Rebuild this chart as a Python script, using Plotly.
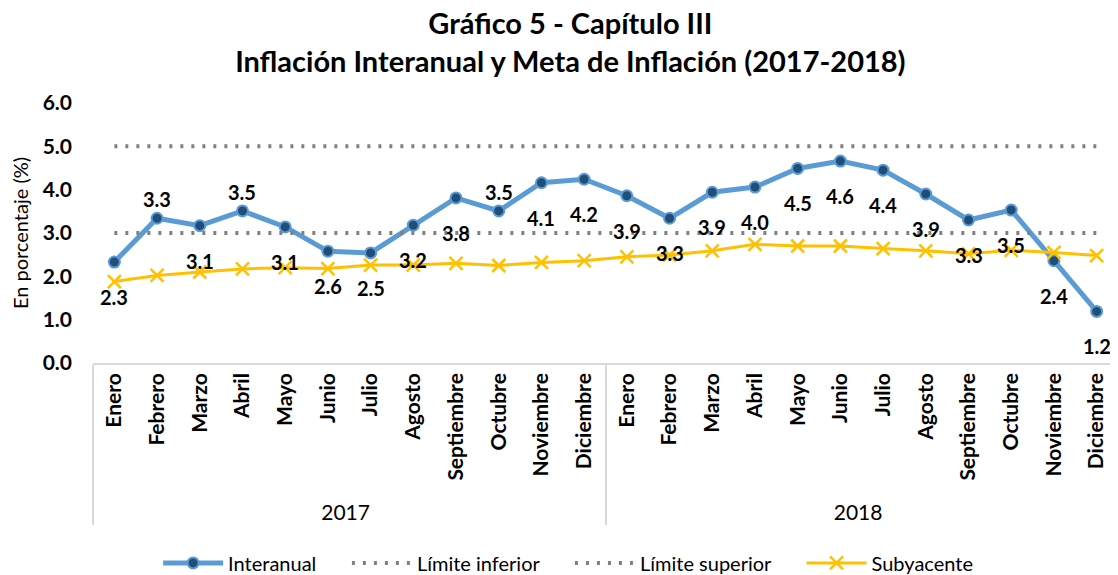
import plotly.graph_objects as go

years = ["2017"] * 12 + ["2018"] * 12
months = ["Enero", "Febrero", "Marzo", "Abril", "Mayo", "Junio", "Julio", "Agosto",
          "Septiembre", "Octubre", "Noviembre", "Diciembre"] * 2

interanual = [2.33, 3.34, 3.17, 3.51, 3.14, 2.58, 2.54, 3.18, 3.81, 3.51, 4.16, 4.24,
              3.86, 3.34, 3.94, 4.06, 4.49, 4.66, 4.45, 3.90, 3.30, 3.53, 2.36, 1.19]
interanual_labels = ["2.3", "3.3", "3.1", "3.5", "3.1", "2.6", "2.5", "3.2", "3.8", "3.5", "4.1", "4.2",
                     "3.9", "3.3", "3.9", "4.0", "4.5", "4.6", "4.4", "3.9", "3.3", "3.5", "2.4", "1.2"]
label_above = [False, True, False, True, False, False, False, False, False, True, False, False,
               False, False, False, False, False, False, False, False, False, False, False, False]
subyacente = [1.88, 2.02, 2.10, 2.17, 2.20, 2.18, 2.26, 2.26, 2.30, 2.25, 2.32, 2.36,
              2.45, 2.49, 2.59, 2.74, 2.70, 2.70, 2.64, 2.59, 2.52, 2.60, 2.55, 2.48]
limite_inferior = [3.0] * 24
limite_superior = [5.0] * 24

y_ticks = [0, 1, 2, 3, 4, 5, 6]
y_tick_labels = ["0.0", "1.0", "2.0", "3.0", "4.0", "5.0", "6.0"]

FONT = "Lato"
PAD = "\u00a0" * 5
x = [years, ["<b>%s</b>" % m for m in months]]

fig = go.Figure()
fig.add_trace(go.Scatter(
    x=x, y=interanual, name="Interanual" + PAD, mode="lines+markers",
    line=dict(color="#5B9BD5", width=5),
    marker=dict(symbol="circle", size=11, color="#1F4E79", line=dict(color="#5B9BD5", width=2)),
))
fig.add_trace(go.Scatter(
    x=x, y=limite_inferior, name="Límite inferior" + PAD, mode="lines",
    line=dict(color="#808080", width=4, dash="3px,8px"),
))
fig.add_trace(go.Scatter(
    x=x, y=limite_superior, name="Límite superior" + PAD, mode="lines",
    line=dict(color="#808080", width=4, dash="3px,8px"),
))
fig.add_trace(go.Scatter(
    x=x, y=subyacente, name="Subyacente", mode="lines+markers",
    line=dict(color="#FFC000", width=3),
    marker=dict(symbol="x-thin", size=13, color="#FFC000", line=dict(color="#FFC000", width=2.5)),
))

for i, (v, t, up) in enumerate(zip(interanual, interanual_labels, label_above)):
    fig.add_annotation(
        x=i, y=v, text=t, showarrow=False,
        yshift=19 if up else -35,
        font=dict(family=FONT, size=20, color="#000000", weight="bold"),
    )

fig.update_layout(
    width=1118, height=575,
    margin=dict(l=85, r=8, t=95, b=220, autoexpand=False),
    paper_bgcolor="white", plot_bgcolor="white",
    title=dict(
        text="Gráfico 5 - Capítulo III<br>Inflación Interanual y Meta de Inflación (2017-2018)",
        x=0.503, xanchor="center", xref="container", y=0.955, yanchor="middle", yref="container",
        font=dict(family=FONT, size=29, color="#000000", weight="bold"),
    ),
    showlegend=True,
    legend=dict(
        orientation="h", x=0.501, xanchor="center", xref="container",
        y=-0.769, yanchor="middle",
        font=dict(family=FONT, size=20, color="#000000"),
        itemwidth=60, tracegroupgap=0,
    ),
)
fig.update_xaxes(
    type="multicategory", automargin=False, range=[-0.5, 23.5], autorange=False,
    showline=True, linecolor="#D9D9D9", linewidth=1.5,
    showgrid=False, ticks="", tickangle=-90,
    showdividers=True, dividercolor="#D9D9D9", dividerwidth=1.5,
    tickfont=dict(family=FONT, size=21, color="#000000"),
)
fig.update_yaxes(
    range=[0, 6], tickvals=y_ticks, ticktext=y_tick_labels, automargin=False,
    showgrid=False, zeroline=False, showline=False,
    ticklabelstandoff=20,
    tickfont=dict(family=FONT, size=21, color="#000000", weight="bold"),
    title=dict(text="En porcentaje (%)", font=dict(family=FONT, size=20, color="#000000"), standoff=10),
)

fig.write_html("out.html")
